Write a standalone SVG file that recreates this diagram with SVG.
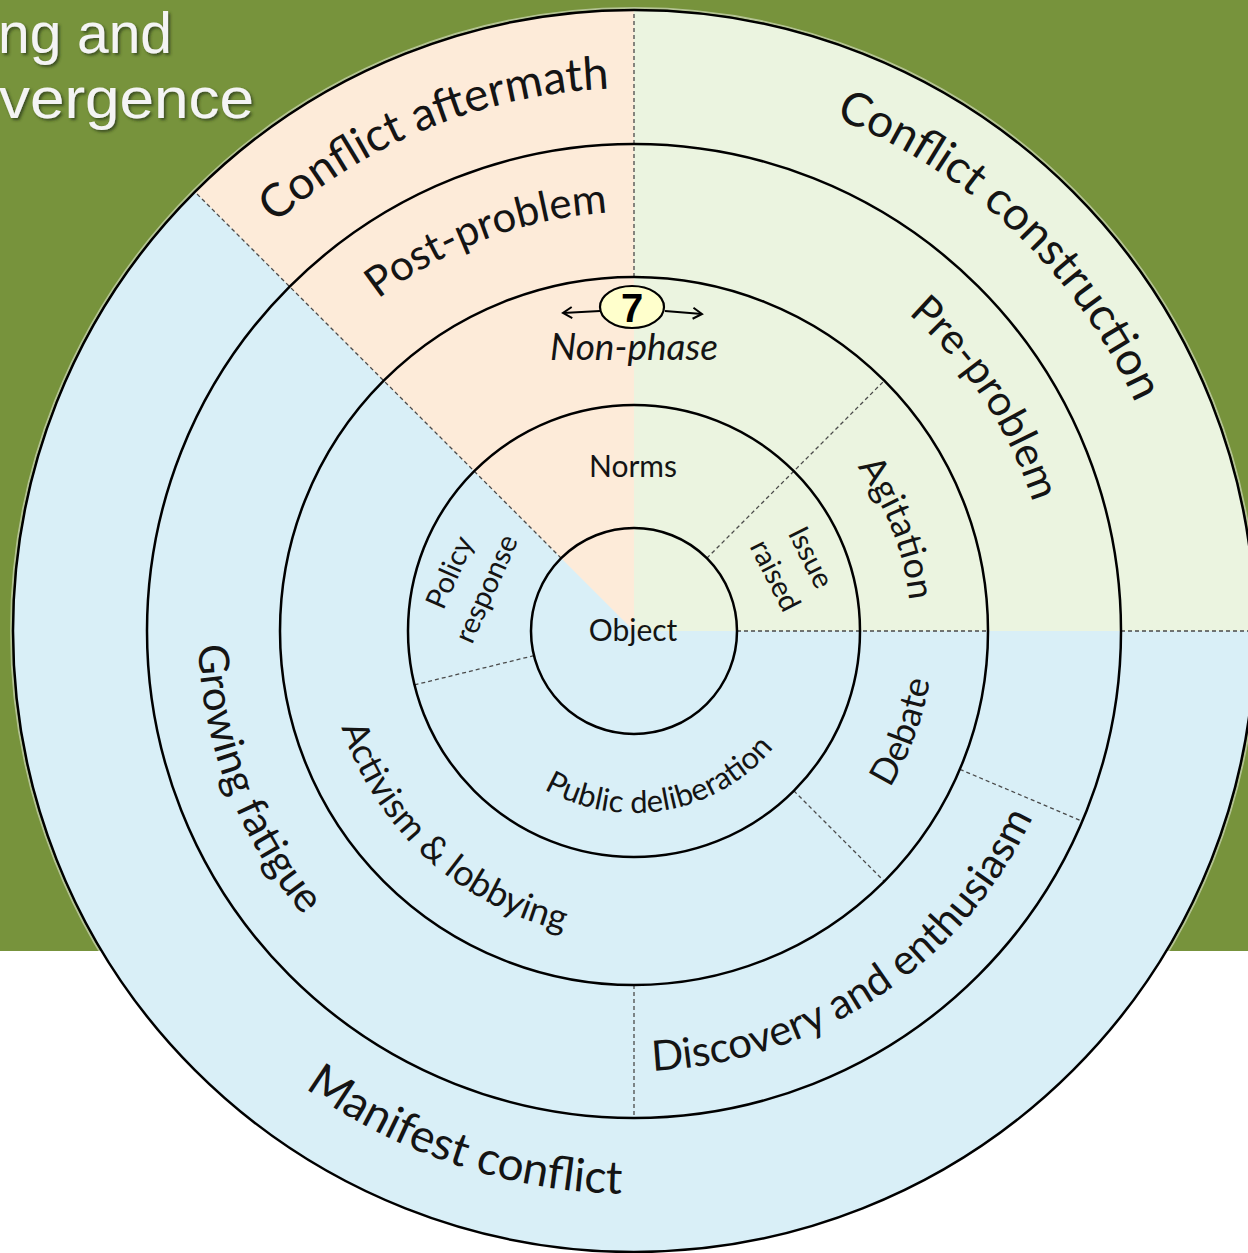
<svg xmlns="http://www.w3.org/2000/svg" width="1248" height="1253" viewBox="0 0 1248 1253">
<defs>
<style>
.ring{fill:none;stroke:#000;stroke-width:2.5}
.div{fill:none;stroke:#4a4a4a;stroke-width:1.3;stroke-dasharray:4 3}
.lbl{font-family:Lato,"Open Sans","Liberation Sans",sans-serif;fill:#141414}
.o{font-size:46px}
.r3{font-size:42px}
.r2{font-size:36px}
.r1{font-size:29px}
.title{font-family:"Liberation Sans",Arial,sans-serif;font-size:58px;fill:#F4F4F4;filter:url(#sh)}
</style>
<filter id="sh" x="-10%" y="-20%" width="120%" height="150%">
<feDropShadow dx="2" dy="2" stdDeviation="1.5" flood-color="#2b3a12" flood-opacity="0.8"/>
</filter>
<marker id="arr" markerWidth="14" markerHeight="14" refX="11" refY="7" orient="auto" markerUnits="userSpaceOnUse">
<path d="M2,1.5 L11,7 L2,12.5" fill="none" stroke="#000" stroke-width="2"/>
</marker>
<path id="pCA" d="M99.25,536.71 A543,543 0 0 1 953.17,191.71"/>
<path id="pCC" d="M496.03,97.58 A551,551 0 0 1 1173.9,740.87"/>
<path id="pMC" d="M82.32,743.26 A563,563 0 0 0 1007.04,1052.69"/>
<path id="pPost" d="M220.6,562.6 A419,419 0 0 1 899.9,307.2"/>
<path id="pPre" d="M608.42,212.78 A419,419 0 0 1 1008.98,817.96"/>
<path id="pGF" d="M293.7,358.4 A436,436 0 0 0 568.05,1061.99"/>
<path id="pDE" d="M439.04,1025.46 A440,440 0 0 0 1073.08,602.61"/>
<path id="pAg" d="M675.9,357.19 A277,277 0 0 1 850.18,804.19"/>
<path id="pDb" d="M683.5,926.89 A300,300 0 0 0 865.49,440.18"/>
<path id="pAL" d="M333.3,564.34 A308,308 0 0 0 726.62,924.75"/>
<path id="pPD" d="M494.99,748.47 A182,182 0 0 0 805.24,692.65"/>
</defs>

<rect x="0" y="0" width="1248" height="951" fill="#77933C"/>
<text class="title" x="-2" y="53" textLength="174" lengthAdjust="spacingAndGlyphs">ng and</text>
<text class="title" x="-1" y="118" textLength="255" lengthAdjust="spacingAndGlyphs">vergence</text>

<g id="disc">
<circle cx="634" cy="631" r="623" fill="none" stroke="#ffffff" stroke-opacity="0.45" stroke-width="2"/>
<circle cx="634" cy="631" r="621" fill="#D9EFF7"/>
<path d="M634,631 L634,10 A621,621 0 0 0 194.9,191.9 Z" fill="#FDEBD9"/>
<path d="M634,631 L1255,631 A621,621 0 0 0 634,10 Z" fill="#EBF4E0"/>
</g>

<g id="connectors">
<line class="div" x1="634" y1="277" x2="634" y2="10"/>
<line class="div" x1="561.2" y1="558.2" x2="194.9" y2="191.9"/>
<line class="div" x1="706.8" y1="558.2" x2="884.3" y2="380.7"/>
<line class="div" x1="737" y1="631" x2="988" y2="631"/>
<line class="div" x1="1121" y1="631" x2="1255" y2="631"/>
<line class="div" x1="793.8" y1="790.8" x2="884.3" y2="881.3"/>
<line class="div" x1="959.9" y1="769.3" x2="1082.3" y2="821.3"/>
<line class="div" x1="634" y1="985" x2="634" y2="1118"/>
<line class="div" x1="534" y1="655.6" x2="414.5" y2="684.9"/>
<line x1="600" y1="311" x2="563" y2="313" stroke="#000" stroke-width="2" marker-end="url(#arr)"/>
<line x1="665" y1="311" x2="702" y2="314" stroke="#000" stroke-width="2" marker-end="url(#arr)"/>
</g>

<g id="rings">
<circle class="ring" cx="634" cy="631" r="621"/>
<circle class="ring" cx="634" cy="631" r="487"/>
<circle class="ring" cx="634" cy="631" r="354"/>
<circle class="ring" cx="634" cy="631" r="226"/>
<circle class="ring" cx="634" cy="631" r="103"/>
</g>

<g id="conflict-aftermath"><text class="lbl o"><textPath href="#pCA" startOffset="50%" text-anchor="middle">Conflict aftermath</textPath></text></g>
<g id="conflict-construction"><text class="lbl o"><textPath href="#pCC" startOffset="50%" text-anchor="middle">Conflict construction</textPath></text></g>
<g id="manifest-conflict"><text class="lbl o"><textPath href="#pMC" startOffset="50%" text-anchor="middle">Manifest conflict</textPath></text></g>
<g id="post-problem"><text class="lbl r3"><textPath href="#pPost" startOffset="50%" text-anchor="middle">Post-problem</textPath></text></g>
<g id="pre-problem"><text class="lbl r3"><textPath href="#pPre" startOffset="50%" text-anchor="middle">Pre-problem</textPath></text></g>
<g id="growing-fatigue"><text class="lbl r3"><textPath href="#pGF" startOffset="50%" text-anchor="middle">Growing fatigue</textPath></text></g>
<g id="discovery"><text class="lbl r3"><textPath href="#pDE" startOffset="50%" text-anchor="middle">Discovery and enthusiasm</textPath></text></g>
<g id="agitation"><text class="lbl r2"><textPath href="#pAg" startOffset="50%" text-anchor="middle">Agitation</textPath></text></g>
<g id="debate"><text class="lbl r2"><textPath href="#pDb" startOffset="50%" text-anchor="middle">Debate</textPath></text></g>
<g id="activism"><text class="lbl r2"><textPath href="#pAL" startOffset="50%" text-anchor="middle">Activism &amp; lobbying</textPath></text></g>
<g id="non-phase">
<ellipse cx="632" cy="307" rx="32" ry="21" fill="#FFFFCC" stroke="#000" stroke-width="2.2"/>
<text x="632" y="322" text-anchor="middle" style="font-family:'Liberation Sans',Arial,sans-serif;font-weight:bold;font-size:40px;fill:#000">7</text>
<text class="lbl" x="634" y="360" text-anchor="middle" style="font-size:37px;font-style:italic">Non-phase</text>
</g>
<g id="norms"><text class="lbl" x="633" y="477" text-anchor="middle" style="font-size:30px">Norms</text></g>
<g id="issue-raised" transform="translate(794,566) rotate(63)">
<text class="lbl r1" x="0" y="-9" text-anchor="middle">Issue</text>
<text class="lbl r1" x="0" y="31" text-anchor="middle">raised</text>
</g>
<g id="policy-response" transform="translate(471.5,582) rotate(-66)">
<text class="lbl r1" x="0" y="-14" text-anchor="middle">Policy</text>
<text class="lbl r1" x="0" y="26" text-anchor="middle">response</text>
</g>
<g id="public-deliberation"><text class="lbl" style="font-size:31px"><textPath href="#pPD" startOffset="50%" text-anchor="middle">Public deliberation</textPath></text></g>
<g id="object"><text class="lbl" x="633" y="641" text-anchor="middle" style="font-size:30px">Object</text></g>
</svg>
